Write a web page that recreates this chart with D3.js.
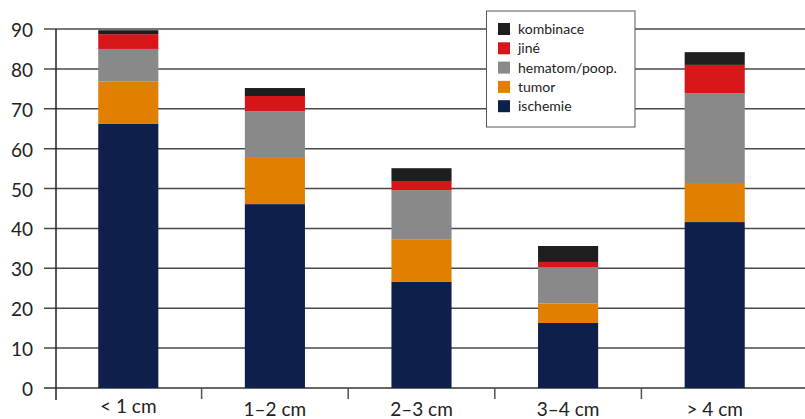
<!DOCTYPE html>
<html>
<head>
<meta charset="utf-8">
<script src="https://cdn.jsdelivr.net/npm/d3@7/dist/d3.min.js"></script>
<style>
  html, body { margin: 0; padding: 0; background: #fff; }
  svg { display: block; }
  text { font-family: Lato, "Open Sans", sans-serif; fill: #222; }
</style>
</head>
<body>
<svg id="chart" width="805" height="419"></svg>
<script>
// Size classes on the x axis
const categories = ["< 1 cm", "1–2 cm", "2–3 cm", "3–4 cm", "> 4 cm"];

// Stacked series, bottom to top
const seriesNames = ["ischemie", "tumor", "hematom/poop.", "jiné", "kombinace"];
const ischemie  = [66.2, 46.1, 26.6, 16.3, 41.6];
const tumor     = [10.6, 11.8, 10.7,  4.9,  9.8];
const hematom   = [ 8.2, 11.5, 12.3,  9.1, 22.5];
const jine      = [ 3.7,  3.8,  2.3,  1.3,  7.1];
const kombinace = [ 1.0,  2.0,  3.2,  4.0,  3.2];

const yTicks = [0, 10, 20, 30, 40, 50, 60, 70, 80, 90];

const colors = ["#0f1f4b", "#e07f00", "#898989", "#d71619", "#1e1e1e"];

const rows = categories.map((c, i) => ({
  cat: c,
  "ischemie": ischemie[i],
  "tumor": tumor[i],
  "hematom/poop.": hematom[i],
  "jiné": jine[i],
  "kombinace": kombinace[i]
}));

const svg = d3.select("#chart");

const x = d3.scaleBand().domain(categories).range([55, 788]).padding(0);
const barW = x.bandwidth() * 0.41;
const y = d3.scaleLinear().domain([0, 90]).range([388, 29]);
const color = d3.scaleOrdinal().domain(seriesNames).range(colors);

// Horizontal gridlines
svg.append("g")
  .selectAll("line")
  .data(yTicks)
  .join("line")
  .attr("x1", 44).attr("x2", 805)
  .attr("y1", d => y(d)).attr("y2", d => y(d))
  .attr("stroke", d => d === 0 ? "#666" : "#4a4a4a")
  .attr("stroke-width", d => d === 0 ? 2 : 1.5);

// Y tick labels
svg.append("g")
  .selectAll("text")
  .data(yTicks)
  .join("text")
  .attr("x", 33)
  .attr("y", d => y(d))
  .attr("dy", "0.42em")
  .attr("text-anchor", "end")
  .attr("font-size", 19)
  .text(d => d);

// Vertical axis line
svg.append("line")
  .attr("x1", x.range()[0] + 1).attr("x2", x.range()[0] + 1)
  .attr("y1", y(90)).attr("y2", y(0) + 12)
  .attr("stroke", "#222").attr("stroke-width", 1.5);

// Category separator ticks
svg.append("g")
  .selectAll("line")
  .data(categories.slice(1))
  .join("line")
  .attr("x1", d => x(d)).attr("x2", d => x(d))
  .attr("y1", y(0)).attr("y2", y(0) + 11)
  .attr("stroke", "#555").attr("stroke-width", 1.5);

// Stacked bars
const stacked = d3.stack().keys(seriesNames)(rows);
svg.append("g")
  .selectAll("g")
  .data(stacked)
  .join("g")
  .attr("fill", d => color(d.key))
  .selectAll("rect")
  .data(d => d)
  .join("rect")
  .attr("x", d => x(d.data.cat) + (x.bandwidth() - barW) / 2)
  .attr("width", barW)
  .attr("y", d => y(d[1]))
  .attr("height", d => y(d[0]) - y(d[1]));

// Category labels
svg.append("g")
  .selectAll("text")
  .data(categories)
  .join("text")
  .attr("x", d => x(d) + x.bandwidth() / 2)
  .attr("y", (d, i) => i === 0 ? 413 : 416)
  .attr("text-anchor", "middle")
  .attr("font-size", 19)
  .text(d => d);

// Legend
const legend = svg.append("g").attr("transform", "translate(486.5,11)");
legend.append("rect")
  .attr("width", 148.5).attr("height", 116)
  .attr("fill", "#fff").attr("stroke", "#555").attr("stroke-width", 1);

const legendOrder = seriesNames.slice().reverse();
const li = legend.selectAll("g.item")
  .data(legendOrder)
  .join("g")
  .attr("class", "item")
  .attr("transform", (d, i) => `translate(0,${18 + i * 19.3})`);
li.append("rect")
  .attr("x", 11.5).attr("y", -6)
  .attr("width", 12).attr("height", 12)
  .attr("fill", d => color(d));
li.append("text")
  .attr("x", 31.5).attr("y", 0)
  .attr("dy", "0.35em")
  .attr("font-size", 14)
  .text(d => d);
</script>
</body>
</html>
